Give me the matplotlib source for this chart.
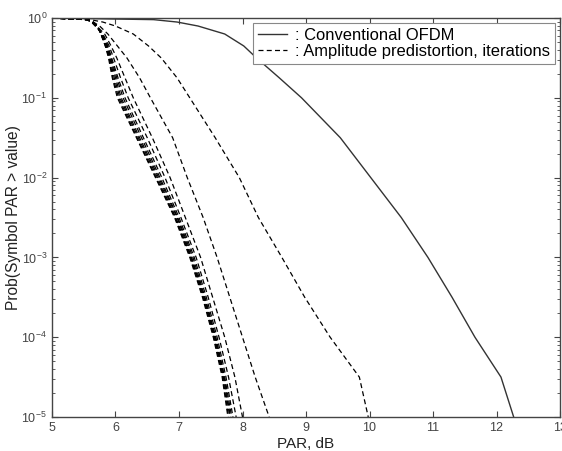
import numpy as np
import matplotlib
matplotlib.use("Agg")
import matplotlib.pyplot as plt
from matplotlib.ticker import LogLocator, NullFormatter

plt.rcParams['font.family'] = ['Liberation Sans', 'DejaVu Sans']

# log10 of probability levels at which each curve's PAR value was read
log_prob = [0, -0.02, -0.05, -0.1, -0.2, -0.35, -0.5, -0.75, -1, -1.5,
            -2, -2.5, -3, -3.5, -4, -4.5, -5]

# Conventional OFDM (solid)
par_conventional = [5, 6.6, 6.97, 7.3, 7.72, 8.02, 8.22, 8.58, 8.93, 9.54,
                    10.02, 10.5, 10.92, 11.3, 11.66, 12.07, 12.27]

# Amplitude predistortion, iteration 1 .. 10 (dashed)
par_iter1 = [5, 5.6, 5.8, 6.0, 6.28, 6.52, 6.72, 6.97, 7.17, 7.57,
             7.95, 8.25, 8.62, 8.98, 9.38, 9.84, 9.98]
par_iter2 = [5, 5.55, 5.65, 5.75, 5.88, 6.03, 6.18, 6.38, 6.55, 6.9,
             7.13, 7.38, 7.6, 7.8, 8.0, 8.2, 8.42]
par_iter3 = [5, 5.55, 5.63, 5.7, 5.83, 5.93, 6.02, 6.15, 6.28, 6.58,
             6.86, 7.1, 7.34, 7.53, 7.72, 7.88, 8.0]
par_iter4 = [5, 5.55, 5.62, 5.68, 5.8, 5.9, 5.97, 6.08, 6.2, 6.5,
             6.78, 7.03, 7.27, 7.46, 7.63, 7.78, 7.9]
par_iter5 = [5, 5.55, 5.63, 5.7, 5.79, 5.88, 5.94, 6.04, 6.15, 6.44,
             6.73, 7.0, 7.24, 7.43, 7.6, 7.74, 7.85]
par_iter6 = [5, 5.55, 5.63, 5.7, 5.78, 5.87, 5.93, 6.02, 6.12, 6.41,
             6.7, 6.98, 7.22, 7.41, 7.58, 7.72, 7.83]
par_iter7 = [5, 5.55, 5.64, 5.71, 5.78, 5.86, 5.92, 6.0, 6.09, 6.38,
             6.68, 6.97, 7.2, 7.4, 7.57, 7.71, 7.81]
par_iter8 = [5, 5.55, 5.64, 5.71, 5.77, 5.85, 5.91, 5.98, 6.07, 6.36,
             6.66, 6.95, 7.19, 7.39, 7.56, 7.7, 7.8]
par_iter9 = [5, 5.55, 5.65, 5.72, 5.77, 5.84, 5.9, 5.96, 6.05, 6.34,
             6.64, 6.94, 7.18, 7.38, 7.55, 7.69, 7.78]
par_iter10 = [5, 5.55, 5.65, 5.72, 5.77, 5.84, 5.89, 5.95, 6.03, 6.33,
              6.63, 6.93, 7.17, 7.37, 7.54, 7.68, 7.77]

iterations = [par_iter1, par_iter2, par_iter3, par_iter4, par_iter5,
              par_iter6, par_iter7, par_iter8, par_iter9, par_iter10]

prob = np.power(10.0, log_prob)

fig = plt.figure(figsize=(5.62, 4.51), dpi=100)
ax = fig.add_axes([0.0925, 0.0754, 0.904, 0.8846])

ax.semilogy(par_conventional, prob, color="#333333", linewidth=1.0,
            label=": Conventional OFDM")
for i, par in enumerate(iterations):
    ax.semilogy(par, prob, color="black", linewidth=0.9,
                linestyle=(0, (4, 2.6)),
                label=": Amplitude predistortion, iterations" if i == 0 else None)

ax.set_xlim(5, 13)
ax.set_ylim(1e-5, 1)
ax.set_xticks(range(5, 14))
ax.yaxis.set_major_locator(LogLocator(base=10, numticks=10))
ax.yaxis.set_minor_locator(LogLocator(base=10, subs=np.arange(2, 10), numticks=10))
ax.yaxis.set_minor_formatter(NullFormatter())

ax.tick_params(which="both", direction="in", top=True, right=True,
               colors="#444444", labelsize=9)
ax.tick_params(which="major", length=4.5)
ax.tick_params(which="minor", length=2.5)
for s in ax.spines.values():
    s.set_color("#444444")
    s.set_linewidth(1.0)

ax.set_xlabel("PAR, dB", fontsize=11, color="#222222", labelpad=2)
ax.set_ylabel("Prob(Symbol PAR > value)", fontsize=11.2, color="#222222",
              labelpad=0)

leg = ax.legend(loc="upper right", fontsize=11.9, handlelength=1.75,
                handletextpad=0.5, borderpad=0.3, labelspacing=0.05,
                borderaxespad=0.3, fancybox=False, framealpha=1.0,
                edgecolor="#888888")
leg.get_frame().set_linewidth(0.8)

fig.savefig("out.png", dpi=100)
